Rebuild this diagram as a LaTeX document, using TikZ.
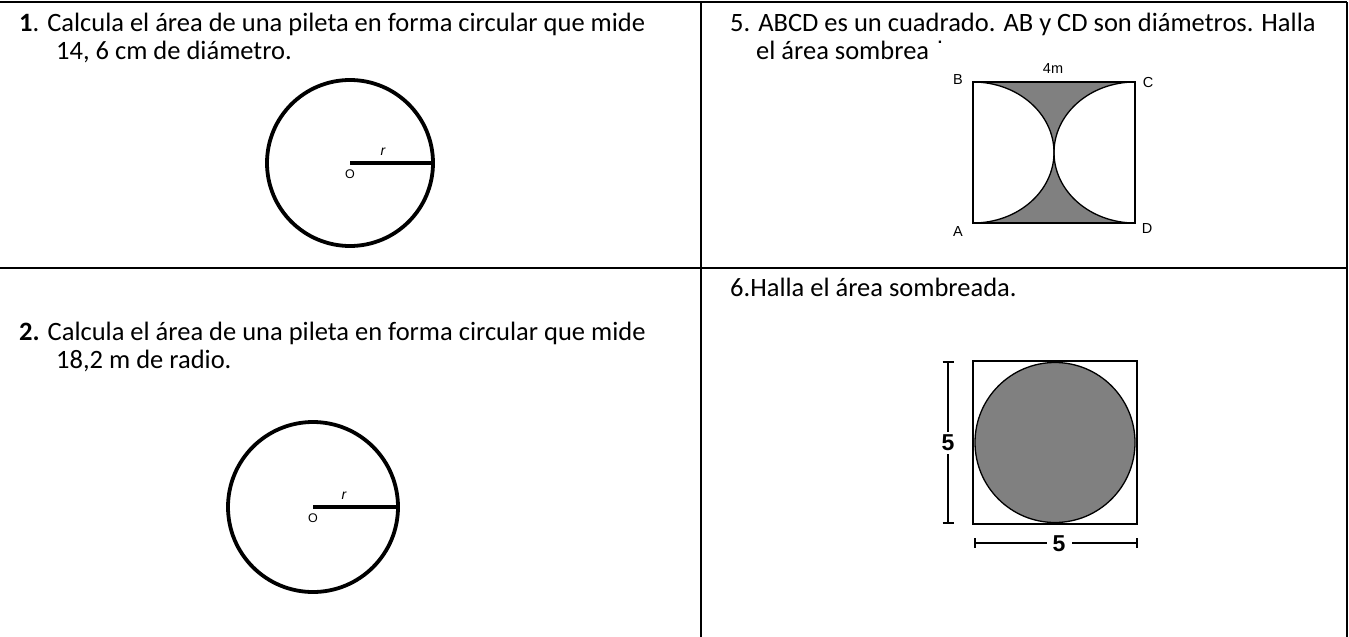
\documentclass[tikz,border=0pt]{standalone}
\usepackage{fontspec}
\setmainfont{Carlito}
\newfontfamily\figfont{Liberation Sans}
\usetikzlibrary{calc}
\definecolor{shadegray}{RGB}{128,128,128}
\begin{document}
\begin{tikzpicture}[x=1pt,y=-1pt,
  cell/.style={anchor=base west,inner sep=0pt,font=\fontsize{26.5}{33}\selectfont},
  lbl/.style={inner sep=0pt,font=\figfont\fontsize{12.5}{12.5}\selectfont},
  rlbl/.style={inner sep=0pt,font=\figfont\itshape\fontsize{14}{14}\selectfont},
  figlbl/.style={inner sep=0pt,font=\figfont\fontsize{14.5}{14.5}\selectfont},
  dimlbl/.style={inner sep=0pt,font=\figfont\bfseries\fontsize{23}{23}\selectfont},
  border/.style={line width=2.6pt},
  ring/.style={line width=3.8pt},
  radius line/.style={line width=4pt},
  thin edge/.style={line width=1.3pt},
  dimline/.style={line width=2.6pt}]
\useasboundingbox (0,0) rectangle (1349,637);
% table borders
\coordinate (TL) at (0,2);
\coordinate (TR) at (1347,2);
\coordinate (TM) at (701,2);
\coordinate (BM) at (701,637);
\coordinate (BR) at (1347,637);
\coordinate (ML) at (0,268);
\coordinate (MR) at (1347,268);
\draw[border] (TL) -- (TR);
\draw[border] (TR) -- (BR);
\draw[border] (TM) -- (BM);
\draw[border] (ML) -- (MR);
% cell 1
\node[cell] (t1a) at (19,31) {\textbf{1}. Calcula el área de una pileta en forma circular que mide};
\node[cell] (t1b) at (56,59) {14, 6 cm de diámetro.};
\coordinate (O1) at (350,163);
\coordinate (R1) at (433,163);
\draw[ring] (O1) circle[radius=83];
\draw[radius line] (O1) -- (R1);
\node[rlbl] (r1) at (383,152) {r};
\node[lbl] (o1) at (350,174) {O};
% cell 2
\node[cell] (t2a) at (19,340) {\textbf{2.} Calcula el área de una pileta en forma circular que mide};
\node[cell] (t2b) at (56,368) {18,2 m de radio.};
\coordinate (O2) at (313,507);
\coordinate (R2) at (398,507);
\draw[ring] (O2) circle[radius=85];
\draw[radius line] (O2) -- (R2);
\node[rlbl] (r2) at (344,496) {r};
\node[lbl] (o2) at (313,518) {O};
% cell 5
\node[cell] (t5a) at (730,31) {5. ABCD es un cuadrado. AB y CD son diámetros. Halla};
\node[cell] (t5b) at (756,59) {el área sombreada.};
\fill[white] (929,43) rectangle (1175,245);
\coordinate (B) at (973,82);
\coordinate (C) at (1135,82);
\coordinate (D) at (1135,223);
\coordinate (A) at (973,223);
\fill[shadegray] (B) -- (C) arc[start angle=270,end angle=90,x radius=81,y radius=70.5] -- (A) arc[start angle=90,end angle=-90,x radius=81,y radius=70.5] -- cycle;
\draw[thin edge] (B) arc[start angle=-90,end angle=90,x radius=81,y radius=70.5];
\draw[thin edge] (C) arc[start angle=270,end angle=90,x radius=81,y radius=70.5];
\draw[thin edge] (A) -- (B) -- (C) -- (D) -- cycle;
\node[figlbl] (nB) at (958,80) {B};
\node[figlbl] (nC) at (1148,83) {C};
\node[figlbl] (nA) at (958,232) {A};
\node[figlbl] (nD) at (1147,229) {D};
\node[figlbl] (n4m) at (1053,69) {4m};
% cell 6
\node[cell] (t6) at (730,296) {6.Halla el área sombreada.};
\coordinate (S1) at (973,361);
\coordinate (S2) at (1137,524);
\coordinate (SC) at (1055,442.5);
\draw[thin edge] (S1) rectangle (S2);
\filldraw[fill=shadegray,draw=black,line width=1.3pt] (SC) circle[radius=80];
% vertical dimension
\coordinate (V1) at (948,362);
\coordinate (V2) at (948,523);
\coordinate (V1b) at (948,432);
\coordinate (V2b) at (948,454);
\node[dimlbl] (v5) at (948,443) {5};
\draw[dimline] (V1) -- (V1b);
\draw[dimline] (V2b) -- (V2);
\draw[dimline] ($(V1)+(-5.5,0)$) -- ($(V1)+(5.5,0)$);
\draw[dimline] ($(V2)+(-5.5,0)$) -- ($(V2)+(5.5,0)$);
% horizontal dimension
\coordinate (H1) at (975,543);
\coordinate (H2) at (1137,543);
\coordinate (H1b) at (1047,543);
\coordinate (H2b) at (1072,543);
\node[dimlbl] (h5) at (1059,544) {5};
\draw[dimline] (H1) -- (H1b);
\draw[dimline] (H2b) -- (H2);
\draw[dimline] ($(H1)+(0,-5)$) -- ($(H1)+(0,5)$);
\draw[dimline] ($(H2)+(0,-5)$) -- ($(H2)+(0,5)$);
\end{tikzpicture}
\end{document}
